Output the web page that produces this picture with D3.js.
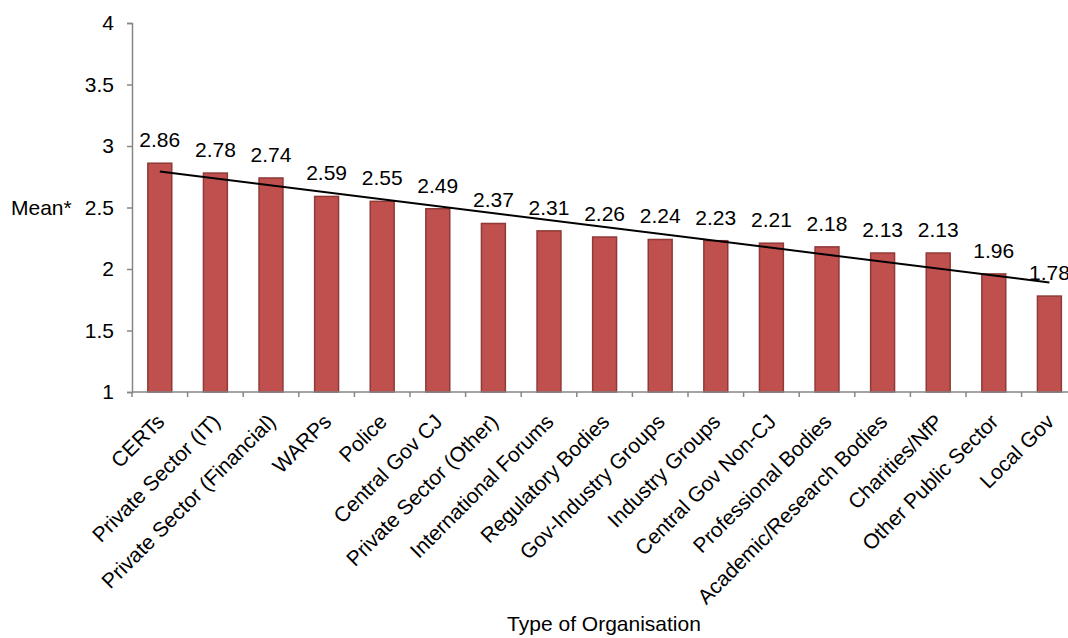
<!DOCTYPE html>
<html>
<head>
<meta charset="utf-8">
<script src="https://cdn.jsdelivr.net/npm/d3@7"></script>
<style>
  html, body { margin: 0; padding: 0; background: #fff; }
  svg { display: block; font-family: "Liberation Sans", Arial, sans-serif; }
</style>
</head>
<body>
<svg id="chart" width="1068" height="638"></svg>
<script>
// Organisation types and their mean scores
const categories = [
  "CERTs", "Private Sector (IT)", "Private Sector (Financial)", "WARPs", "Police",
  "Central Gov CJ", "Private Sector (Other)", "International Forums", "Regulatory Bodies",
  "Gov-Industry Groups", "Industry Groups", "Central Gov Non-CJ", "Professional Bodies",
  "Academic/Research Bodies", "Charities/NfP", "Other Public Sector", "Local Gov"
];
const means = [2.86, 2.78, 2.74, 2.59, 2.55, 2.49, 2.37, 2.31, 2.26, 2.24, 2.23, 2.21, 2.18, 2.13, 2.13, 1.96, 1.78];
const yTicks = [1, 1.5, 2, 2.5, 3, 3.5, 4];

const svg = d3.select("#chart");
const axisColor = "#868686";
const fontSize = 21;

const plotLeft = 132, plotTop = 23, plotBottom = 392;
const step = 55.6;

const x = d3.scaleBand()
  .domain(categories)
  .range([plotLeft, plotLeft + step * categories.length])
  .paddingInner(0.57)
  .paddingOuter(0.285);

const y = d3.scaleLinear().domain([1, 4]).range([plotBottom, plotTop]);

// Y axis
const yAxis = svg.append("g")
  .attr("transform", `translate(${plotLeft},0)`)
  .call(d3.axisLeft(y).tickValues(yTicks).tickFormat(d3.format("")).tickSize(5).tickPadding(13));
yAxis.select(".domain").attr("stroke", axisColor).attr("stroke-width", 1.5);
yAxis.selectAll(".tick line").attr("stroke", axisColor).attr("stroke-width", 1.5);
yAxis.selectAll(".tick text")
  .attr("fill", "#000")
  .style("font-size", fontSize + "px")
  .style("font-family", "'Liberation Sans', Arial, sans-serif");

// Bars
svg.append("g").selectAll("rect")
  .data(means)
  .join("rect")
  .attr("x", (d, i) => x(categories[i]))
  .attr("width", x.bandwidth())
  .attr("y", d => y(d))
  .attr("height", d => y(1) - y(d))
  .attr("fill", "#C0504D")
  .attr("stroke", "#8E3A38")
  .attr("stroke-width", 1.5);

// X axis line with tick marks at category boundaries
const gap = (x.step() - x.bandwidth()) / 2;
const boundaries = categories.map(c => x(c) - gap).concat([x(categories[categories.length - 1]) + x.bandwidth() + gap]);
const xAxis = svg.append("g");
xAxis.append("line")
  .attr("x1", plotLeft).attr("x2", boundaries[boundaries.length - 1])
  .attr("y1", plotBottom).attr("y2", plotBottom)
  .attr("stroke", axisColor).attr("stroke-width", 1.5);
xAxis.selectAll("line.tick")
  .data(boundaries)
  .join("line")
  .attr("class", "tick")
  .attr("x1", d => d).attr("x2", d => d)
  .attr("y1", plotBottom).attr("y2", plotBottom + 5)
  .attr("stroke", axisColor).attr("stroke-width", 1.5);

// Rotated category labels
svg.append("g").selectAll("text")
  .data(categories)
  .join("text")
  .attr("transform", d => `translate(${x(d) + x.bandwidth() / 2 + 6},${plotBottom + 31}) rotate(-45)`)
  .attr("text-anchor", "end")
  .style("font-size", fontSize + "px")
  .text(d => d);

// Value labels above bars
svg.append("g").selectAll("text")
  .data(means)
  .join("text")
  .attr("x", (d, i) => x(categories[i]) + x.bandwidth() / 2)
  .attr("y", d => y(d) - 16)
  .attr("text-anchor", "middle")
  .style("font-size", fontSize + "px")
  .text(d => d.toFixed(2));

// Linear trend line across bar centres (least squares fit)
const n = means.length;
const xs = d3.range(n);
const mx = d3.mean(xs), my = d3.mean(means);
const slope = d3.sum(xs, i => (i - mx) * (means[i] - my)) / d3.sum(xs, i => (i - mx) ** 2);
const intercept = my - slope * mx;
const cx = i => x(categories[i]) + x.bandwidth() / 2;
svg.append("line")
  .attr("x1", cx(0)).attr("y1", y(intercept))
  .attr("x2", cx(n - 1)).attr("y2", y(intercept + slope * (n - 1)))
  .attr("stroke", "#000").attr("stroke-width", 2);

// Axis titles
svg.append("text")
  .attr("x", 11).attr("y", y(2.5))
  .attr("dy", "0.35em")
  .style("font-size", fontSize + "px")
  .text("Mean*");

svg.append("text")
  .attr("x", 604).attr("y", 631)
  .attr("text-anchor", "middle")
  .style("font-size", fontSize + "px")
  .text("Type of Organisation");
</script>
</body>
</html>
